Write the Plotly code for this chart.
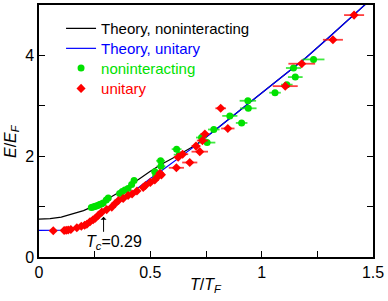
import plotly.graph_objects as go

# Theory curves
theory_T = [0, 0.05, 0.1, 0.15, 0.2, 0.25, 0.3, 0.35, 0.4, 0.45, 0.5, 0.55, 0.6, 0.65, 0.7,
            0.8, 0.9, 1.0, 1.1, 1.2, 1.3, 1.4, 1.5]
theory_nonint = [0.75, 0.76, 0.79, 0.85, 0.92, 1.02, 1.13, 1.26, 1.40, 1.55, 1.70, 1.84, 1.96,
                 2.08, 2.21, 2.55, 2.90, 3.25, 3.60, 3.96, 4.35, 4.75, 5.15]
theory_unit = [0.53, 0.53, 0.535, 0.56, 0.62, 0.76, 0.92, 1.07, 1.22, 1.39, 1.56, 1.71, 1.87,
               2.03, 2.20, 2.55, 2.90, 3.25, 3.60, 3.96, 4.35, 4.75, 5.15]

# Noninteracting data
green_T = [0.235, 0.243, 0.250, 0.257, 0.264, 0.272, 0.280, 0.288, 0.302, 0.311, 0.362, 0.374,
           0.386, 0.400, 0.416, 0.427, 0.520, 0.525, 0.546, 0.548, 0.618, 0.630, 0.730, 0.755,
           0.785, 0.857, 0.910, 0.938, 0.940, 1.060, 1.113, 1.143, 1.151, 1.233]
green_E = [0.98, 0.99, 1.00, 1.01, 1.02, 1.04, 1.05, 1.07, 1.13, 1.17, 1.26, 1.30,
           1.33, 1.36, 1.44, 1.52, 1.69, 1.61, 1.91, 1.80, 2.14, 2.03, 2.37, 2.27,
           2.53, 2.80, 2.66, 3.10, 2.95, 3.26, 3.42, 3.75, 3.57, 3.92]
green_err = [0.008, 0.008, 0.008, 0.008, 0.008, 0.008, 0.008, 0.008, 0.008, 0.008, 0.008, 0.008,
             0.008, 0.008, 0.01, 0.01, 0.015, 0.015, 0.02, 0.02, 0.022, 0.025, 0.025, 0.037,
             0.026, 0.034, 0.026, 0.037, 0.037, 0.026, 0.026, 0.034, 0.033, 0.049]

# Unitary data
red_T = [0.064, 0.113, 0.122, 0.131, 0.143, 0.170, 0.190, 0.205, 0.215, 0.229, 0.243, 0.253,
         0.267, 0.282, 0.304, 0.327, 0.342, 0.357, 0.378, 0.400, 0.418, 0.440, 0.468, 0.478,
         0.500, 0.520, 0.535, 0.543, 0.550, 0.617, 0.625, 0.645, 0.677, 0.705, 0.722, 0.734,
         0.745, 0.816, 0.848, 1.106, 1.180, 1.320, 1.415]
red_E = [0.52, 0.525, 0.53, 0.535, 0.545, 0.58, 0.61, 0.63, 0.65, 0.70, 0.74, 0.77,
         0.83, 0.89, 0.94, 0.99, 1.06, 1.12, 1.16, 1.22, 1.25, 1.31, 1.38, 1.42,
         1.48, 1.53, 1.60, 1.66, 1.63, 1.77, 1.98, 2.04, 1.875, 2.20, 2.09, 2.31,
         2.44, 2.95, 2.55, 3.39, 3.835, 4.31, 4.80]
red_err = [0.01] * 29 + [0.034, 0.02, 0.025, 0.034, 0.02, 0.037, 0.025,
                         0.02, 0.024, 0.03, 0.056, 0.06, 0.045, 0.045]

x_ticks = [0, 0.5, 1, 1.5]
x_labels = ["0", "0.5", "1", "1.5"]
y_ticks = [0, 2, 4]
y_labels = ["0", "2", "4"]

GREEN = "rgb(0,225,0)"
RED = "rgb(255,0,0)"
BLUE = "rgb(0,0,255)"
FONT = "Liberation Sans, Arial, sans-serif"

fig = go.Figure()
fig.add_trace(go.Scatter(x=theory_T, y=theory_nonint, mode="lines",
                         line=dict(color="black", width=1.2),
                         name="Theory, noninteracting", legend="legend"))
fig.add_trace(go.Scatter(x=theory_T, y=theory_unit, mode="lines",
                         line=dict(color=BLUE, width=1.2),
                         name="Theory, unitary", legend="legend2"))
fig.add_trace(go.Scatter(x=green_T, y=green_E, mode="markers",
                         marker=dict(color=GREEN, size=7, symbol="circle"),
                         error_x=dict(type="data", array=green_err, color="rgba(0,225,0,0.75)",
                                      thickness=1.8, width=0),
                         name="noninteracting", legend="legend3"))
fig.add_trace(go.Scatter(x=red_T, y=red_E, mode="markers",
                         marker=dict(color=RED, size=7, symbol="diamond"),
                         error_x=dict(type="data", array=red_err, color="rgba(255,0,0,0.75)",
                                      thickness=1.8, width=0),
                         name="unitary", legend="legend4"))

# T_c arrow and label
fig.add_annotation(x=0.29, y=0.80, ax=0.29, ay=0.47, xref="x", yref="y",
                   axref="x", ayref="y", text="", showarrow=True,
                   arrowhead=1, arrowsize=1, arrowwidth=1, arrowcolor="black")
fig.add_annotation(x=0.338, y=0.28, xref="x", yref="y",
                   text="<i>T</i><sub><i>c</i></sub>=0.29", showarrow=False,
                   font=dict(size=16, color="black", family=FONT))

# Axis titles
fig.add_annotation(x=0.5, y=-0.112, xref="paper", yref="paper", yanchor="middle",
                   text="<i>T</i>/<i>T</i><sub><i>F</i></sub>", showarrow=False,
                   font=dict(size=16, color="black", family=FONT))
fig.add_annotation(x=-0.084, y=0.46, xref="paper", yref="paper", xanchor="center",
                   text="<i>E</i>/<i>E</i><sub><i>F</i></sub>", showarrow=False, textangle=-90,
                   font=dict(size=16, color="black", family=FONT))

fig.update_xaxes(range=[0, 1.5], tickvals=x_ticks, ticktext=x_labels,
                 ticks="inside", ticklen=6, tickwidth=1, tickcolor="black",
                 minor=dict(dtick=0.25, ticks="inside", ticklen=6, tickwidth=1, tickcolor="black"),
                 showline=True, linecolor="black", linewidth=1.5, mirror=True,
                 showgrid=False, zeroline=False,
                 tickfont=dict(size=16, color="black", family=FONT))
fig.update_yaxes(range=[0, 5], tickvals=y_ticks, ticktext=y_labels,
                 ticks="inside", ticklen=6, tickwidth=1, tickcolor="black",
                 minor=dict(dtick=1, ticks="inside", ticklen=6, tickwidth=1, tickcolor="black"),
                 showline=True, linecolor="black", linewidth=1.5, mirror="allticks",
                 showgrid=False, zeroline=False,
                 tickfont=dict(size=16, color="black", family=FONT))


def leg(ypos, color):
    return dict(x=0.066, y=ypos, xanchor="left", yanchor="middle",
                bgcolor="rgba(0,0,0,0)", borderwidth=0,
                font=dict(size=15, color=color, family=FONT), itemwidth=30)


fig.update_layout(width=388, height=301,
                  margin=dict(l=39, r=15, t=3, b=44),
                  paper_bgcolor="white", plot_bgcolor="white",
                  font=dict(family=FONT, color="black"),
                  showlegend=True,
                  legend=leg(0.906, "black"),
                  legend2=leg(0.827, BLUE),
                  legend3=leg(0.749, GREEN),
                  legend4=leg(0.668, RED))

fig.write_html("out.html", config={"displayModeBar": False},
               post_script="document.body.style.margin='0';document.body.style.padding='0';")
